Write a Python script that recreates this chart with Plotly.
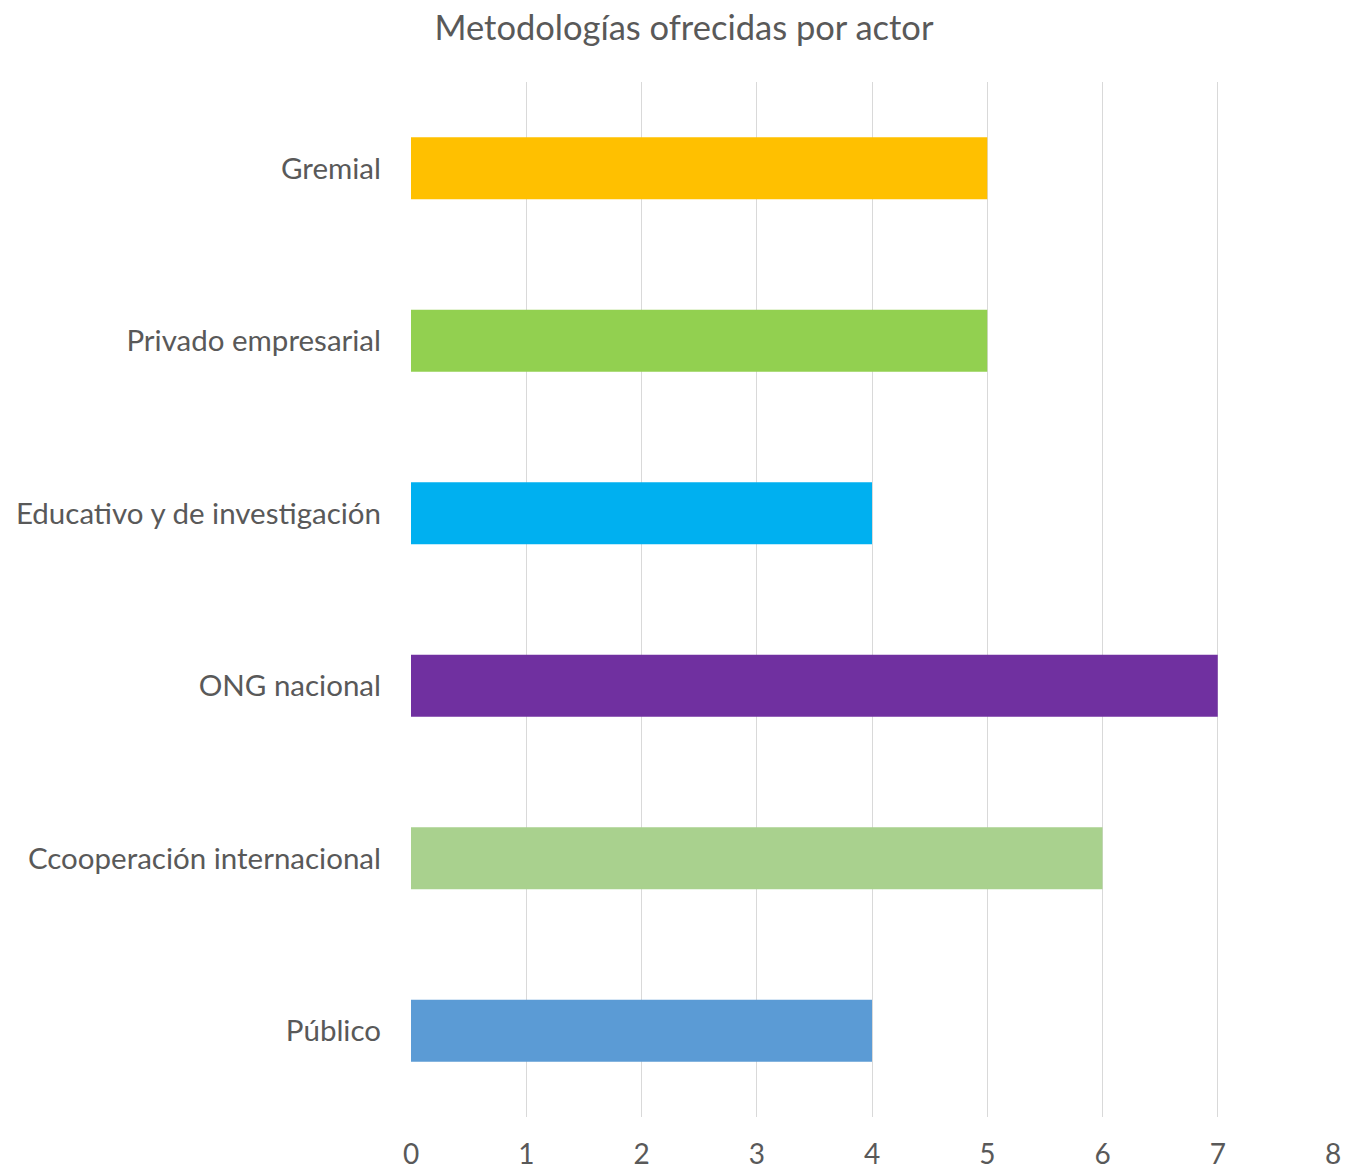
import plotly.graph_objects as go

categories = ["Público", "Ccooperación internacional", "ONG nacional",
              "Educativo y de investigación", "Privado empresarial", "Gremial"]
values = [4, 6, 7, 4, 5, 5]
colors = ["#5B9BD5", "#A9D18E", "#7030A0", "#00B0F0", "#92D050", "#FFC000"]
x_ticks = [0, 1, 2, 3, 4, 5, 6, 7, 8]

W, H = 1345, 1171

fig = go.Figure(go.Bar(
    y=categories, x=values, orientation="h",
    marker=dict(color=colors, line=dict(width=0)),
    width=0.36,
))

fig.update_layout(
    width=W, height=H,
    margin=dict(l=411, r=12, t=82, b=54, autoexpand=False),
    paper_bgcolor="white", plot_bgcolor="white",
    font=dict(family="Lato, Open Sans, sans-serif", color="#595959"),
    title=dict(text="Metodologías ofrecidas por actor", x=684/W, xanchor="center",
               y=1 - 28/H, yanchor="middle", automargin=False,
               font=dict(size=34.5, color="#595959")),
    showlegend=False,
)
fig.update_xaxes(range=[0, 8], tickvals=x_ticks, showgrid=True, gridcolor="#D9D9D9",
                 gridwidth=1.3, zeroline=False, showline=False, automargin=False,
                 tickfont=dict(size=28, color="#595959"), ticklabelstandoff=18)
fig.update_yaxes(showgrid=False, zeroline=False, showline=False, automargin=False,
                 tickfont=dict(size=29.5, color="#595959"), ticklabelstandoff=29,
                 categoryorder="array", categoryarray=categories)

fig.write_html("out.html",
               config={"displayModeBar": False},
               post_script="document.body.style.margin='0';document.body.style.overflow='hidden';")
